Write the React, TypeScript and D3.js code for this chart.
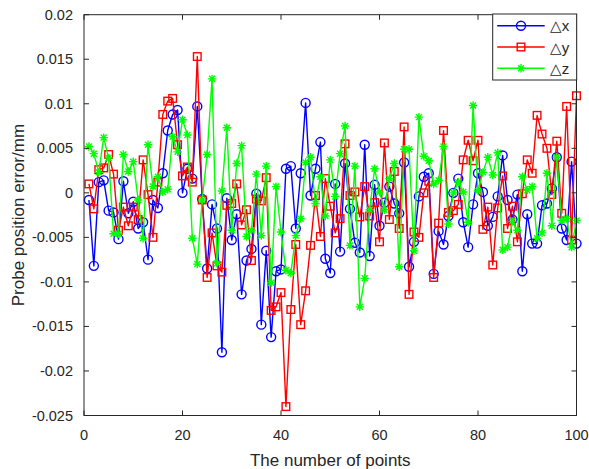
import * as d3 from 'd3';
import React from 'react';

// probe position errors (mm), point 1..100
const dx = [
  -0.0008, -0.0082, 0.0012, 0.0014, -0.002, -0.0022, -0.0052, 0.0013, -0.0023, -0.001,
  -0.004, -0.0033, -0.0075, -0.0008, -0.0017, 0.0022, 0.007, 0.0088, 0.0093, 0.0,
  0.0027, 0.0016, 0.0097, -0.0007, -0.0085, -0.0013, -0.004, -0.0179, -0.0006, -0.0053,
  -0.0024, -0.0114, -0.0076, -0.0063, -0.0001, -0.0148, -0.0065, -0.0162, -0.0088, -0.0086,
  0.0027, 0.003, -0.004, 0.0022, 0.0101, -0.0003, 0.0027, 0.0057, -0.0074, -0.009,
  0.001, -0.0066, 0.0033, -0.0018, -0.0056, -0.0067, 0.0054, -0.0071, 0.0009, -0.0037,
  -0.0011, 0.0007, -0.0012, -0.0023, 0.0034, -0.0083, -0.0055, -0.0004, 0.0018, 0.0022,
  -0.0091, -0.0043, -0.0058, -0.0026, 0.0, 0.0016, -0.0033, -0.0061, -0.0013, 0.0022,
  0.0001, -0.0037, -0.0027, -0.0004, 0.0042, -0.0008, -0.003, -0.0002, -0.0088, -0.0024,
  -0.0057, -0.0057, -0.0014, -0.0012, 0.0005, 0.004, -0.004, -0.0053, 0.0035, -0.0057,
];
const dy = [
  0.001, -0.0018, 0.0026, 0.0028, 0.0043, 0.0021, -0.0042, -0.0016, -0.0037, -0.0016,
  -0.003, 0.0037, -0.0002, -0.005, 0.0012, 0.0088, 0.0103, 0.0106, 0.0054, 0.0019,
  0.0029, 0.0012, 0.0153, -0.0008, -0.0095, -0.0045, -0.0082, -0.0089, -0.0014, -0.0012,
  0.001, -0.0036, -0.0019, -0.0076, -0.0007, -0.0009, 0.0017, -0.0132, -0.0128, -0.0112,
  -0.024, -0.0131, -0.0058, -0.0148, -0.011, -0.0059, -0.0003, -0.0049, 0.0016, -0.0015,
  -0.0045, -0.0029, 0.0055, -0.0003, 0.0001, -0.0027, 0.0007, -0.0026, -0.0011, -0.0055,
  0.0056, -0.003, 0.0024, -0.004, 0.0074, -0.0114, -0.0044, -0.005, 0.0, 0.0013,
  -0.0095, -0.0034, 0.007, -0.0022, -0.002, -0.0013, 0.0037, 0.0059, 0.0036, 0.0059,
  -0.0041, -0.0016, -0.0081, -0.0017, 0.0019, -0.004, -0.0015, -0.0055, -0.0001, 0.0037,
  0.0022, 0.0087, 0.0066, 0.005, -0.0002, 0.0058, -0.0023, 0.0097, -0.0053, 0.0109,
];
const dz = [
  0.0052, 0.0044, 0.0023, 0.0062, 0.0039, -0.0046, -0.0046, 0.0043, 0.0024, 0.0035,
  -0.0008, -0.0051, 0.0054, 0.0007, 0.0018, 0.0001, 0.0004, 0.0063, 0.0046, 0.0082,
  0.0065, -0.0051, -0.008, -0.0008, 0.0043, 0.0128, -0.0079, 0.0002, 0.0073, -0.0042,
  0.0033, 0.0053, -0.0049, -0.0042, 0.0021, -0.0048, 0.003, -0.0101, 0.0007, -0.0044,
  -0.0087, -0.009, -0.0048, -0.0029, 0.0034, 0.004, -0.0012, 0.0018, -0.0026, 0.0037,
  -0.0004, 0.0044, 0.0075, -0.0059, 0.003, -0.0128, -0.0096, -0.0019, 0.0027, 0.0001,
  -0.0019, 0.0016, 0.0033, -0.0083, 0.0049, 0.0049, -0.0065, 0.0085, 0.0041, 0.0036,
  0.001, 0.0014, 0.0052, -0.0035, 0.0, 0.0012, 0.0001, -0.0033, 0.0098, 0.0002,
  0.0023, 0.004, 0.002, 0.0045, -0.0064, -0.0061, -0.0032, -0.0042, 0.0018, 0.0003,
  0.0007, -0.0051, -0.0045, 0.0022, -0.0037, 0.004, -0.0031, -0.0029, -0.0061, -0.0031,
];

const xTicks = [0, 20, 40, 60, 80, 100];
const yTicks = [0.02, 0.015, 0.01, 0.005, 0, -0.005, -0.01, -0.015, -0.02, -0.025];
const yTickLabels = ['0.02', '0.015', '0.01', '0.005', '0', '-0.005', '-0.01', '-0.015', '-0.02', '-0.025'];
const names = ['\u25B3x', '\u25B3y', '\u25B3z'];
const colors = ['#0000ff', '#ff0000', '#00ff00'];
const markers = ['o', 's', '*'];

const W = 589;
const H = 469;
const font = 'Arial, "Liberation Sans", Helvetica, sans-serif';
const axisColor = '#262626';

function Marker({ type, x, y, color }) {
  if (type === 'o') {
    return <circle cx={x} cy={y} r={4.5} fill="none" stroke={color} strokeWidth={1.4} />;
  }
  if (type === 's') {
    return <rect x={x - 3.8} y={y - 3.8} width={7.6} height={7.6} fill="none" stroke={color} strokeWidth={1.4} />;
  }
  const s = 4.2;
  const d = 3;
  return (
    <path
      d={`M${x - s},${y}H${x + s}M${x},${y - s}V${y + s}M${x - d},${y - d}L${x + d},${y + d}M${x - d},${y + d}L${x + d},${y - d}`}
      stroke={color}
      strokeWidth={1.4}
      fill="none"
    />
  );
}

export default function App() {
  const x = d3.scaleLinear().domain([0, 100]).range([84, 576.5]);
  const y = d3.scaleLinear().domain([-0.025, 0.02]).range([415.5, 14.7]);

  const series = [dx, dy, dz];
  const line = d3
    .line<number>()
    .x((d, i) => x(i + 1))
    .y((d) => y(d));

  const [x0, x1] = x.range();
  const [yb, yt] = y.range();
  const tl = 5;

  const lx = 492.7;
  const ly = 14;
  const lw = 84;
  const lh = 66;

  return (
    <div style={{ position: 'absolute', left: 0, top: 0 }}>
      <svg width={W} height={H} style={{ display: 'block', background: '#fff' }}>
        <rect x={0} y={0} width={W} height={H} fill="#fff" />

        {/* data */}
        {series.map((s, k) => (
          <g key={k}>
            <path d={line(s)} fill="none" stroke={colors[k]} strokeWidth={1.4} strokeLinejoin="round" />
            {s.map((v, i) => (
              <Marker key={i} type={markers[k]} x={x(i + 1)} y={y(v)} color={colors[k]} />
            ))}
          </g>
        ))}

        {/* box + ticks */}
        <rect x={x0} y={yt} width={x1 - x0} height={yb - yt} fill="none" stroke={axisColor} strokeWidth={1} />
        {xTicks.map((t) => (
          <g key={'x' + t}>
            <line x1={x(t)} x2={x(t)} y1={yb} y2={yb - tl} stroke={axisColor} />
            <line x1={x(t)} x2={x(t)} y1={yt} y2={yt + tl} stroke={axisColor} />
            <text x={x(t)} y={yb + 24} textAnchor="middle" fontFamily={font} fontSize={14.5} fill={axisColor}>
              {t}
            </text>
          </g>
        ))}
        {yTicks.map((t, i) => (
          <g key={'y' + t}>
            <line x1={x0} x2={x0 + tl} y1={y(t)} y2={y(t)} stroke={axisColor} />
            <line x1={x1} x2={x1 - tl} y1={y(t)} y2={y(t)} stroke={axisColor} />
            <text x={x0 - 11} y={y(t) + 5} textAnchor="end" fontFamily={font} fontSize={14.5} fill={axisColor}>
              {yTickLabels[i]}
            </text>
          </g>
        ))}

        {/* axis labels */}
        <text x={(x0 + x1) / 2} y={466} textAnchor="middle" fontFamily={font} fontSize={17} fill={axisColor}>
          The number of points
        </text>
        <text
          transform={`translate(24,${(yb + yt) / 2}) rotate(-90)`}
          textAnchor="middle"
          fontFamily={font}
          fontSize={17}
          fill={axisColor}
        >
          Probe position error/mm
        </text>

        {/* legend */}
        <rect x={lx} y={ly} width={lw} height={lh} fill="#fff" stroke={axisColor} strokeWidth={1} />
        {names.map((n, k) => {
          const cy = ly + 11.7 + k * 21.3;
          return (
            <g key={n}>
              <line x1={lx + 4.5} x2={lx + 52} y1={cy} y2={cy} stroke={colors[k]} strokeWidth={1.4} />
              <Marker type={markers[k]} x={lx + 28.3} y={cy} color={colors[k]} />
              <text x={lx + 57} y={cy + 5.5} fontFamily={font} fontSize={15} fill={axisColor}>
                {n}
              </text>
            </g>
          );
        })}
      </svg>
    </div>
  );
}
